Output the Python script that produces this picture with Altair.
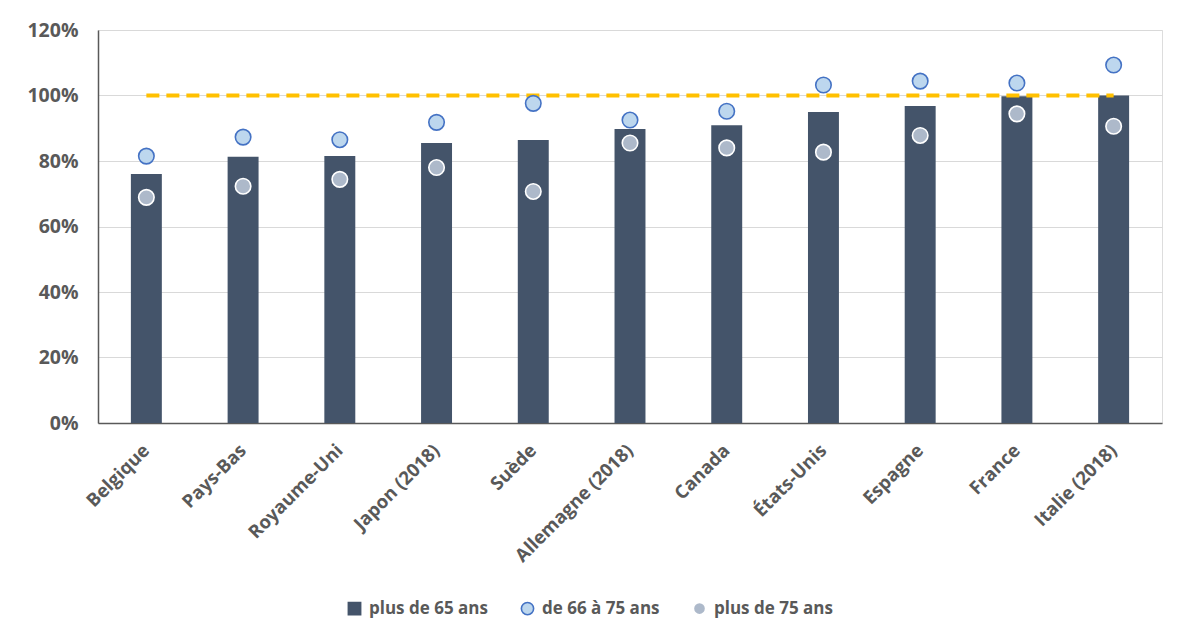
import altair as alt
import pandas as pd

pays = ["Belgique", "Pays-Bas", "Royaume-Uni", "Japon (2018)", "Suède",
        "Allemagne (2018)", "Canada", "États-Unis", "Espagne", "France", "Italie (2018)"]
plus_65 = [0.760, 0.813, 0.815, 0.855, 0.864, 0.898, 0.909, 0.950, 0.968, 0.998, 1.000]
de_66_75 = [0.815, 0.873, 0.865, 0.918, 0.976, 0.925, 0.952, 1.032, 1.044, 1.038, 1.093]
plus_75 = [0.689, 0.723, 0.744, 0.780, 0.707, 0.855, 0.840, 0.827, 0.878, 0.944, 0.906]
reference = [1.0] * len(pays)

series = ["plus de 65 ans", "de 66 à 75 ans", "plus de 75 ans"]

bars_df = pd.DataFrame({"pays": pays, "valeur": plus_65, "serie": series[0]})
pts_df = pd.concat([
    pd.DataFrame({"pays": pays, "valeur": de_66_75, "serie": series[1]}),
    pd.DataFrame({"pays": pays, "valeur": plus_75, "serie": series[2]}),
])
ref_df = pd.DataFrame({"pays": pays, "valeur": reference})

TXT = "#595959"
FONT = "Open Sans"

x_enc = alt.X("pays:N", sort=pays, title=None,
              scale=alt.Scale(paddingInner=0.68, paddingOuter=0.34),
              axis=alt.Axis(labelAngle=-45, labelAlign="right", labelBaseline="middle",
                            labelPadding=24, ticks=False, domainColor=TXT, domainWidth=1.5,
                            labelColor=TXT, labelFont=FONT, labelFontWeight="bold",
                            labelFontSize=18.5, grid=False, labelOverlap=False))
y_scale = alt.Scale(domain=[0, 1.2])
y_enc = alt.Y("valeur:Q", title=None, scale=y_scale,
              axis=alt.Axis(values=[0, 0.2, 0.4, 0.6, 0.8, 1.0, 1.2], format=".0%",
                            ticks=False, domainColor=TXT, domainWidth=1.5,
                            labelColor=TXT, labelFont=FONT, labelFontWeight="bold",
                            labelFontSize=19.5, labelPadding=20,
                            gridColor="#D9D9D9", gridWidth=1.2))

fill_scale = alt.Scale(domain=series, range=["#44546A", "#BDD7EE", "#ADB9CA"])
stroke_scale = alt.Scale(domain=series, range=["#44546A", "#4472C4", "#FFFFFF"])
shape_scale = alt.Scale(domain=series, range=["square", "circle", "circle"])


def leg():
    return alt.Legend(
        title=None, orient="none", legendX=248, legendY=570, direction="horizontal",
        labelFont=FONT, labelFontWeight="bold", labelFontSize=17, labelColor=TXT,
        symbolSize=150, symbolStrokeWidth=1.6, columnPadding=30, labelOffset=6,
        symbolOpacity=1,
    )


bars = alt.Chart(bars_df).mark_bar().encode(
    x=x_enc, y=y_enc,
    fill=alt.Fill("serie:N", scale=fill_scale, legend=leg()),
)

ref_line = alt.Chart(ref_df).mark_line(
    color="#FFC000", strokeWidth=4, strokeDash=[13, 7]
).encode(x=alt.X("pays:N", sort=pays), y=alt.Y("valeur:Q", scale=y_scale))

points = alt.Chart(pts_df).mark_point(filled=True, size=240, strokeWidth=1.6, opacity=1).encode(
    x=alt.X("pays:N", sort=pays),
    y=alt.Y("valeur:Q", scale=y_scale),
    fill=alt.Fill("serie:N", scale=fill_scale, legend=leg()),
    stroke=alt.Stroke("serie:N", scale=stroke_scale, legend=leg()),
    shape=alt.Shape("serie:N", scale=shape_scale, legend=leg()),
)

chart = alt.layer(bars, ref_line, points).properties(
    width=1064, height=393,
    autosize=alt.AutoSizeParams(type="none"),
    padding={"left": 90, "top": 22, "right": 12, "bottom": 206},
).configure_view(strokeOpacity=0, strokeWidth=0).configure(background="white")

chart.save("out.html", embed_options={"renderer": "svg", "actions": False})
